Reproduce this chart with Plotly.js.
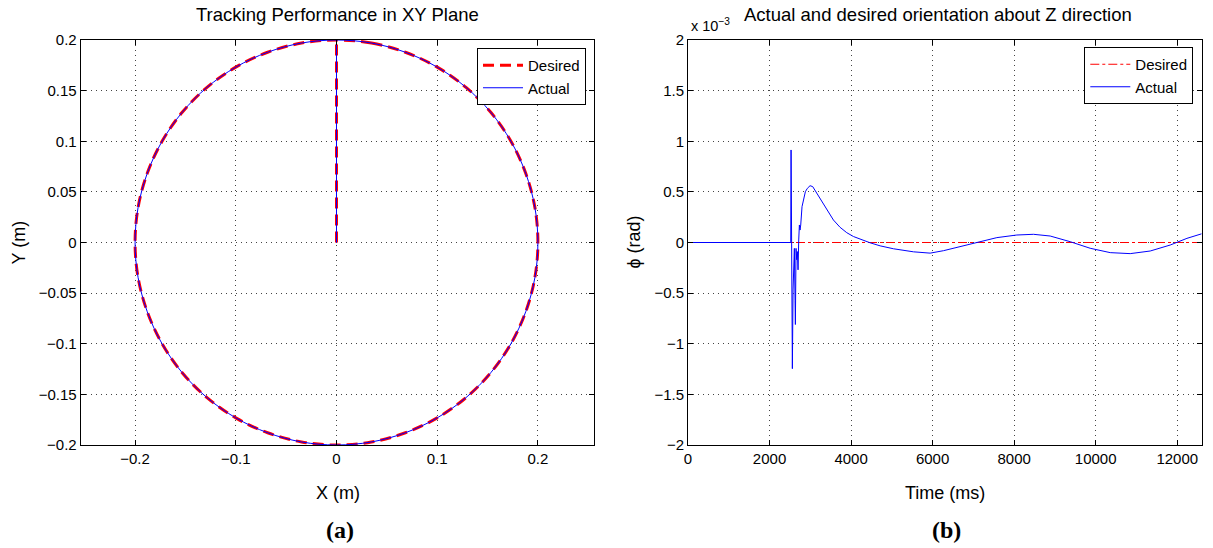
<!DOCTYPE html>
<html><head><meta charset="utf-8">
<script src="https://cdn.plot.ly/plotly-3.0.1.min.js"></script>
<style>html,body{margin:0;padding:0;background:#fff}#plot{width:1213px;height:548px}</style>
</head><body><div id="plot"></div>
<script>
// ---- Panel (a): XY trajectory (m) : start at origin, up to (0,0.2), then around the circle
const pathX = [0, 0, null, 0, 0.0347, 0.0684, 0.1, 0.1286, 0.1532, 0.1732, 0.1879, 0.1970, 0.2, 0.1970, 0.1879, 0.1732, 0.1532, 0.1286, 0.1, 0.0684, 0.0347, 0, -0.0347, -0.0684, -0.1, -0.1286, -0.1532, -0.1732, -0.1879, -0.1970, -0.2, -0.1970, -0.1879, -0.1732, -0.1532, -0.1286, -0.1, -0.0684, -0.0347, 0];
const pathY = [0, 0.2, null, 0.2, 0.1970, 0.1879, 0.1732, 0.1532, 0.1286, 0.1, 0.0684, 0.0347, 0, -0.0347, -0.0684, -0.1, -0.1286, -0.1532, -0.1732, -0.1879, -0.1970, -0.2, -0.1970, -0.1879, -0.1732, -0.1532, -0.1286, -0.1, -0.0684, -0.0347, 0, 0.0347, 0.0684, 0.1, 0.1286, 0.1532, 0.1732, 0.1879, 0.1970, 0.2];

// ---- Panel (b): orientation phi (units of 1e-3 rad) vs time (ms)
const desTime = [0, 12600];
const desPhi = [0, 0];
const actTime = [0, 2520, 2528, 2560, 2577, 2593, 2609, 2626, 2634, 2650, 2667, 2683, 2699, 2716, 2732, 2748, 2765, 2797, 2814, 2846, 2879, 2928, 2994, 3059, 3157, 3280, 3403, 3567, 3730, 3894, 4058, 4262, 4467, 4712, 5040, 5530, 5939, 6266, 6757, 7166, 7575, 8066, 8475, 8884, 9374, 9865, 10356, 10847, 11337, 11828, 12238, 12600];
const actPhi = [0, 0, 0.914, -1.246, -0.469, -0.17, -0.058, -0.57, -0.81, -0.058, -0.17, -0.09, -0.27, 0.025, 0.173, 0.123, 0.173, 0.354, 0.387, 0.436, 0.502, 0.535, 0.561, 0.552, 0.486, 0.403, 0.321, 0.222, 0.150, 0.097, 0.059, 0.026, -0.003, -0.033, -0.062, -0.092, -0.105, -0.081, -0.035, 0.008, 0.048, 0.074, 0.081, 0.064, 0.008, -0.057, -0.10, -0.11, -0.084, -0.025, 0.041, 0.086];

const leftTicksX = [-0.2, -0.1, 0, 0.1, 0.2];
const leftTicksY = [-0.2, -0.15, -0.1, -0.05, 0, 0.05, 0.1, 0.15, 0.2];
const rightTicksX = [0, 2000, 4000, 6000, 8000, 10000, 12000];
const rightTicksY = [-2, -1.5, -1, -0.5, 0, 0.5, 1, 1.5, 2];

const W = 1213, H = 548;
const px = v => v / W, py = v => 1 - v / H;
const FONT = 'Liberation Sans, Arial, Helvetica, sans-serif';

function ax(extra) {
  return Object.assign({
    showline: true, linecolor: 'black', linewidth: 1, mirror: 'ticks',
    ticks: 'inside', ticklen: 5, tickcolor: 'black', tickwidth: 1,
    showgrid: true, gridcolor: '#444', gridwidth: 1, griddash: '1px,4px',
    zeroline: false, tickfont: {size: 15, color: 'black', family: FONT},
    fixedrange: true
  }, extra);
}

const traces = [
  {x: pathX, y: pathY, xaxis: 'x', yaxis: 'y', mode: 'lines', name: 'Desired', legend: 'legend',
   line: {color: '#ff0000', width: 3, dash: '11px,6px', shape: 'spline'}, connectgaps: false},
  {x: pathX, y: pathY, xaxis: 'x', yaxis: 'y', mode: 'lines', name: 'Actual', legend: 'legend',
   line: {color: '#0000ff', width: 1, shape: 'spline'}, connectgaps: false},
  {x: desTime, y: desPhi, xaxis: 'x2', yaxis: 'y2', mode: 'lines', name: 'Desired', legend: 'legend2',
   line: {color: '#ff0000', width: 1, dash: 'dashdot'}},
  {x: actTime, y: actPhi, xaxis: 'x2', yaxis: 'y2', mode: 'lines', name: 'Actual', legend: 'legend2',
   line: {color: '#0000ff', width: 1}}
];

const legendBase = {xanchor: 'right', yanchor: 'top', bordercolor: 'black', borderwidth: 1,
  bgcolor: 'white', font: {size: 15, family: FONT, color: 'black'}, tracegroupgap: 0,
  itemwidth: 40, entrywidth: 108, entrywidthmode: 'pixels'};

const ann = (text, x, y, opts) => Object.assign({text, x: px(x), y: py(y), xref: 'paper', yref: 'paper',
  showarrow: false, xanchor: 'center', yanchor: 'middle', font: {size: 18, family: FONT, color: 'black'}}, opts || {});

const layout = {
  width: W, height: H,
  margin: {l: 0, r: 0, t: 0, b: 0, autoexpand: false},
  paper_bgcolor: 'white', plot_bgcolor: 'white',
  font: {family: FONT, color: 'black'},
  showlegend: true,
  xaxis: ax({domain: [px(80.7), px(594.3)], range: [-0.254, 0.256], tickvals: leftTicksX, anchor: 'y'}),
  yaxis: ax({domain: [py(445), py(40)], range: [-0.2, 0.2], tickvals: leftTicksY, anchor: 'x'}),
  xaxis2: ax({domain: [px(688), px(1201.7)], range: [0, 12600], tickvals: rightTicksX, tickformat: 'd', anchor: 'y2'}),
  yaxis2: ax({domain: [py(445), py(40)], range: [-2, 2], tickvals: rightTicksY, anchor: 'x2'}),
  legend: Object.assign({x: px(586), y: py(48)}, legendBase),
  legend2: Object.assign({x: px(1193.3), y: py(47)}, legendBase),
  annotations: [
    ann('Tracking Performance in XY Plane', 337.5, 15, {font: {size: 18.5, family: FONT, color: 'black'}}),
    ann('Actual and desired orientation about Z direction', 938, 15, {font: {size: 18.5, family: FONT, color: 'black'}}),
    ann('x 10<sup>−3</sup>', 689, 25, {xanchor: 'left', font: {size: 14.5, family: FONT, color: 'black'}}),
    ann('X (m)', 337.5, 493),
    ann('Time (ms)', 945, 493),
    ann('Y (m)', 18, 242.5, {textangle: -90}),
    ann('ϕ (rad)', 633, 242.5, {textangle: -90}),
    ann('<b>(a)</b>', 340, 530, {font: {size: 24, family: 'Liberation Serif, Times New Roman, serif', color: 'black'}}),
    ann('<b>(b)</b>', 946, 530, {font: {size: 24, family: 'Liberation Serif, Times New Roman, serif', color: 'black'}})
  ]
};

Plotly.newPlot('plot', traces, layout, {staticPlot: true, displayModeBar: false});
</script></body></html>
